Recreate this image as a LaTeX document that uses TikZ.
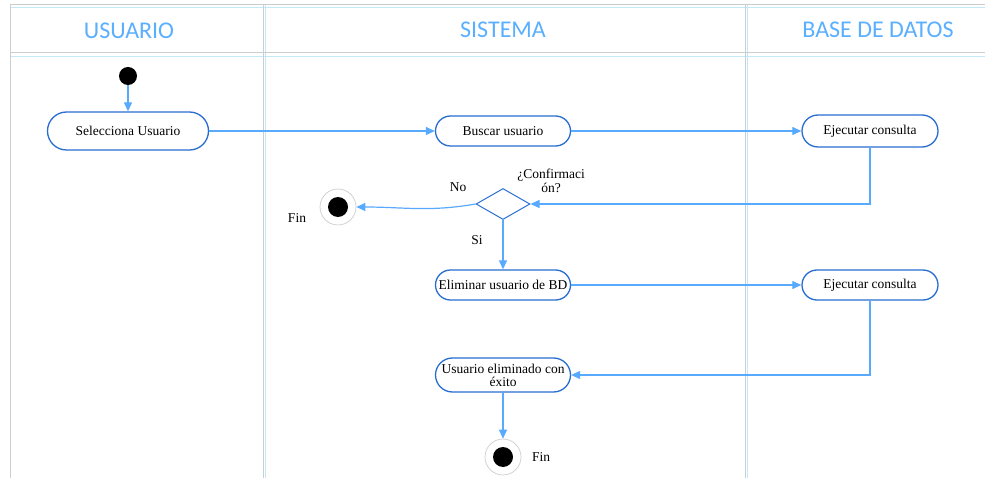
\documentclass[tikz,border=0pt]{standalone}
\usepackage{fontspec}
\setmainfont{Liberation Serif}
\newfontfamily\headfont{Carlito}
\usetikzlibrary{arrows.meta,shapes.geometric}
\definecolor{flow}{RGB}{88,170,255}
\definecolor{edge}{RGB}{40,110,210}
\definecolor{lane}{RGB}{205,205,205}
\definecolor{lanehi}{RGB}{195,232,250}
\definecolor{headtxt}{RGB}{90,175,255}
\tikzset{
  x=1pt, y=-1pt,
  laneline/.style={draw=lane, line width=1pt},
  lanehiline/.style={draw=lanehi, line width=0.6pt},
  header/.style={font=\headfont\fontsize{24}{28}\selectfont, text=headtxt},
  act/.style={draw=edge, line width=1.3pt, fill=white, rounded corners=15pt,
    font=\fontsize{13.5}{14}\selectfont, align=center, inner sep=1pt},
  startdot/.style={circle, fill=black, minimum size=18pt, inner sep=0pt},
  enddot/.style={circle, draw=lane, line width=0.7pt, fill=white, minimum size=36pt, inner sep=0pt,
    path picture={\fill[black] (path picture bounding box.center) circle[radius=10pt];}},
  choice/.style={diamond, draw=edge, line width=1pt, fill=white, minimum width=54pt,
    minimum height=31pt, inner sep=0pt, aspect=1.7},
  flowarrow/.style={draw=flow, line width=1.2pt, -{Triangle[length=9pt,width=8pt]}},
  lbl/.style={font=\fontsize{13.5}{14}\selectfont, align=center, inner sep=0pt},
}
\begin{document}
\begin{tikzpicture}
\useasboundingbox (0,0) rectangle (985,478);
\fill[white] (0,0) rectangle (985,478);

% swimlane frame
\draw[lanehiline] (10,7.5) -- (985,7.5);
\draw[lanehiline] (10,56) -- (985,56);
\draw[lanehiline] (265.5,5) -- (265.5,478);
\draw[lanehiline] (747.5,5) -- (747.5,478);
\draw[laneline] (10,5) -- (985,5);
\draw[laneline] (10,53) -- (985,53);
\draw[laneline] (10,5) -- (10,478);
\draw[laneline] (263,5) -- (263,478);
\draw[laneline] (745,5) -- (745,478);

% lane titles
\node[header] (hU) at (129,31) {USUARIO};
\node[header] (hS) at (503,30) {SISTEMA};
\node[header] (hB) at (878,30) {BASE DE DATOS};

% activities
\node[startdot] (start) at (128,76) {};
\node[act, minimum width=161pt, minimum height=38pt, rounded corners=19pt] (sel) at (128,131) {Selecciona Usuario};
\node[act, minimum width=135pt, minimum height=30pt] (busc) at (503,131) {Buscar usuario};
\node[act, minimum width=136pt, minimum height=32pt, rounded corners=16pt] (ej1) at (870,131) {Ejecutar consulta};
\node[choice] (conf) at (503,204) {};
\node[enddot] (fin1) at (338,207) {};
\node[act, minimum width=135pt, minimum height=30pt] (elim) at (503,285) {Eliminar usuario de BD};
\node[act, minimum width=136pt, minimum height=30pt] (ej2) at (870,285) {Ejecutar consulta};
\node[act, minimum width=135pt, minimum height=34pt, rounded corners=17pt, inner sep=0pt] (ok) at (503,375) {Usuario eliminado con\\[-1pt]éxito};
\node[enddot] (fin2) at (503,457) {};

% labels
\node[lbl] (qconf) at (551,181) {¿Confirmaci\\ón?};
\node[lbl] (lno) at (458,187) {No};
\node[lbl] (lsi) at (477,240) {Si};
\node[lbl] (lfin1) at (297,218) {Fin};
\node[lbl] (lfin2) at (541,457) {Fin};

% flows
\draw[flowarrow] (start) -- (sel);
\draw[flowarrow] (sel) -- (busc);
\draw[flowarrow] (busc) -- (ej1);
\draw[flowarrow] (ej1.south) |- (conf.east);
\draw[flowarrow] (conf.west) to[out=190, in=0] (fin1.east);
\draw[flowarrow] (conf.south) -- (elim.north);
\draw[flowarrow] (elim) -- (ej2);
\draw[flowarrow] (ej2.south) |- (ok.east);
\draw[flowarrow] (ok.south) -- (fin2.north);
\end{tikzpicture}
\end{document}
